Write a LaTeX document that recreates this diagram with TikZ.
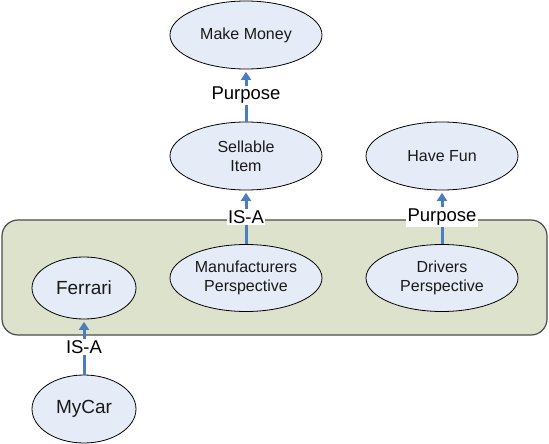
\documentclass[tikz,border=0pt]{standalone}
\usepackage{fontspec}
\setmainfont{Liberation Sans}
\usetikzlibrary{shapes.geometric,arrows.meta}

\definecolor{ovalfill}{HTML}{E6ECF7}
\definecolor{panelfill}{HTML}{DDE2CC}
\definecolor{linkblue}{HTML}{4A7EC0}

\tikzset{
    concept/.style={ellipse, draw=black, line width=0.8pt, fill=ovalfill,
        inner sep=0pt, align=center, text=black!90,
        font=\fontsize{16}{19}\selectfont,
        minimum width=152pt, minimum height=68pt},
    small concept/.style={concept, font=\fontsize{19}{22}\selectfont,
        minimum width=104pt, minimum height=62pt},
    link/.style={draw=linkblue, line width=3pt, shorten >=2.5pt,
        -{Triangle[width=10pt,length=8pt]}},
    linklabel/.style={fill=white, inner sep=1.5pt, text=black,
        font=\fontsize{18.5}{21}\selectfont},
    panel/.style={draw=black!70, line width=1.2pt, fill=panelfill,
        rounded corners=16pt}
}

\begin{document}
\begin{tikzpicture}[x=1pt, y=-1pt]
    \useasboundingbox (0,0) rectangle (549,444);

    % Group of the two perspectives and Ferrari
    \node[panel, minimum width=545pt, minimum height=115pt] (group) at (274.5,277.5) {};

    % Concepts
    \node[concept] (money) at (246,35) {Make Money};
    \node[concept] (item) at (246,156) {Sellable\\Item};
    \node[concept] (fun) at (442,156) {Have Fun};
    \node[small concept] (ferrari) at (84,288) {Ferrari};
    \node[concept, minimum height=67pt] (maker) at (246,278) {Manufacturers\\Perspective};
    \node[concept, minimum height=67pt] (driver) at (442,278) {Drivers\\Perspective};
    \node[small concept, minimum height=68pt] (mycar) at (84,409) {MyCar};

    % Relations
    \draw[link] (item) -- node[linklabel] {Purpose} (money);
    \draw[link] (maker) -- node[linklabel] {IS-A} (item);
    \draw[link] (driver) -- node[linklabel] {Purpose} (fun);
    \draw[link] (mycar) -- node[linklabel] {IS-A} (ferrari);
\end{tikzpicture}
\end{document}
